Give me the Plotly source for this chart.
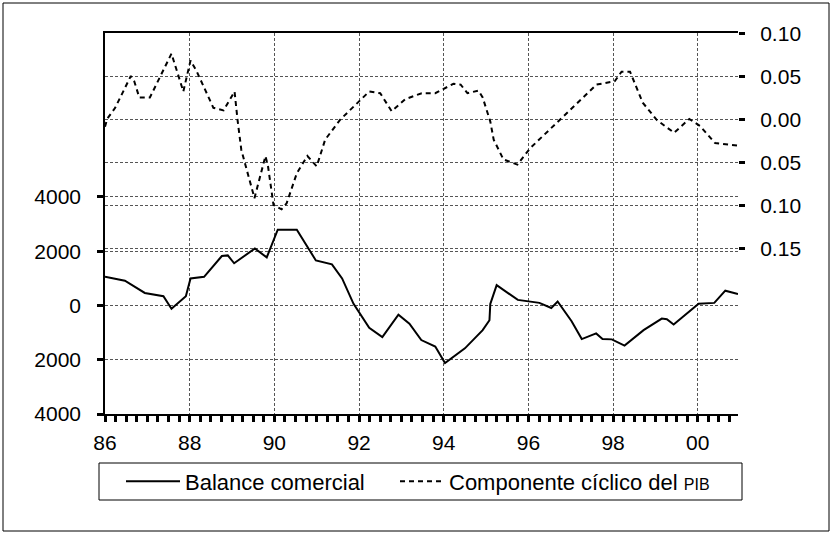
import plotly.graph_objects as go

# ---- data ----
years_balance = [1986.00, 1986.47, 1986.94, 1987.38, 1987.57, 1987.91, 1988.02, 1988.34, 1988.76, 1988.90,
                 1989.05, 1989.54, 1989.82, 1990.08, 1990.53, 1990.98, 1991.36, 1991.60, 1991.87, 1992.24,
                 1992.55, 1992.93, 1993.19, 1993.47, 1993.80, 1994.03, 1994.50, 1994.92, 1995.08, 1995.10,
                 1995.25, 1995.75, 1996.26, 1996.54, 1996.69, 1997.02, 1997.26, 1997.60, 1997.75, 1997.97,
                 1998.27, 1998.72, 1999.15, 1999.27, 1999.43, 2000.02, 2000.39, 2000.65, 2000.95]
balance = [1060, 910, 460, 340, -120, 340, 995, 1056, 1820, 1845,
           1555, 2100, 1770, 2790, 2790, 1660, 1515, 995, 60, -825,
           -1165, -340, -670, -1275, -1515, -2120, -1580, -910, -545, 60,
           750, 205, 95, -95, 145, -580, -1240, -1030, -1240, -1250,
           -1480, -910, -485, -510, -705, 60, 95, 545, 425]

years_ciclo = [1986.00, 1986.05, 1986.24, 1986.61, 1986.69, 1986.81, 1987.06, 1987.57, 1987.85, 1988.02,
               1988.16, 1988.56, 1988.80, 1989.06, 1989.13, 1989.22, 1989.53, 1989.79, 1989.85, 1989.98,
               1990.17, 1990.29, 1990.53, 1990.78, 1991.00, 1991.20, 1991.55, 1992.06, 1992.24, 1992.50,
               1992.77, 1993.09, 1993.48, 1993.80, 1994.03, 1994.23, 1994.40, 1994.56, 1994.82, 1994.92,
               1995.10, 1995.18, 1995.41, 1995.74, 1996.04, 1996.75, 1997.61, 1998.04, 1998.20, 1998.40,
               1998.51, 1998.70, 1999.03, 1999.44, 1999.80, 2000.05, 2000.41, 2000.95]
ciclo = [-0.008, 0.001, 0.014, 0.051, 0.045, 0.026, 0.026, 0.077, 0.033, 0.069,
         0.057, 0.014, 0.011, 0.033, 0.000, -0.035, -0.091, -0.042, -0.054, -0.099,
         -0.104, -0.097, -0.062, -0.042, -0.054, -0.023, 0.000, 0.024, 0.033, 0.031,
         0.010, 0.024, 0.031, 0.031, 0.037, 0.042, 0.041, 0.031, 0.034, 0.026,
         -0.002, -0.023, -0.046, -0.052, -0.033, 0.000, 0.041, 0.045, 0.056, 0.056,
         0.043, 0.020, 0.000, -0.015, 0.001, -0.007, -0.027, -0.030]

x_tickvals = [1986, 1988, 1990, 1992, 1994, 1996, 1998, 2000]
x_ticktext = ["86", "88", "90", "92", "94", "96", "98", "00"]
y1_tickvals = [-4000, -2000, 0, 2000, 4000]
y1_ticktext = ["4000", "2000", "0", "2000", "4000"]
y2_tickvals = [0.10, 0.05, 0.0, -0.05, -0.10, -0.15]
y2_ticktext = ["0.10", "0.05", "0.00", "0.05", "0.10", "0.15"]

name_balance = "Balance comercial"
name_ciclo = 'Componente cíclico del <span style="font-size:16px">PIB</span>'

FONT = "Liberation Sans, Arial, Helvetica, sans-serif"
GRID = "#555555"

fig = go.Figure()
fig.add_trace(go.Scatter(x=years_balance, y=balance, mode="lines", name=name_balance,
                         line=dict(color="black", width=2), yaxis="y", legend="legend"))
fig.add_trace(go.Scatter(x=years_ciclo, y=ciclo, mode="lines", name=name_ciclo,
                         line=dict(color="black", width=2, dash="5px,4px"), yaxis="y2", legend="legend2"))

W, H = 832, 533
L, R, T, B = 105, 94, 33, 119
pw, ph = W - L - R, H - T - B


def px_x(x):
    return (x - L) / pw


def px_y(y):
    return (H - B - y) / ph


TICKFONT = dict(size=21)
LEGFONT = dict(size=22)

fig.update_layout(
    width=W, height=H,
    margin=dict(l=L, r=R, t=T, b=B),
    paper_bgcolor="white", plot_bgcolor="white",
    font=dict(family=FONT, size=21, color="black"),
    xaxis=dict(range=[1986, 2000.95], tickmode="array", tickvals=x_tickvals, ticktext=x_ticktext,
               showline=True, linecolor="black", linewidth=1.5, mirror=True,
               ticks="outside", ticklen=6, tickwidth=3, tickcolor="black",
               showgrid=True, gridcolor=GRID, gridwidth=1, griddash="3px,2px", zeroline=False,
               minor=dict(tickmode="linear", tick0=1986, dtick=0.25, ticks="outside", ticklen=6,
                          tickwidth=3, tickcolor="black", showgrid=False),
               tickfont=TICKFONT, ticklabelstandoff=3),
    yaxis=dict(range=[-4000, 10040], tickmode="array", tickvals=y1_tickvals, ticktext=y1_ticktext,
               showline=True, linecolor="black", linewidth=1.5,
               ticks="outside", ticklen=6, tickwidth=3, tickcolor="black",
               showgrid=True, gridcolor=GRID, gridwidth=1, griddash="3px,2px", zeroline=False,
               tickfont=TICKFONT, ticklabelstandoff=12),
    yaxis2=dict(range=[-0.342, 0.101], overlaying="y", side="right", anchor="x",
                tickmode="array", tickvals=y2_tickvals, ticktext=y2_ticktext,
                showline=False, ticks="outside", ticklen=6, tickwidth=3, tickcolor="black",
                showgrid=True, gridcolor=GRID, gridwidth=1, griddash="3px,2px", zeroline=False,
                tickfont=TICKFONT, ticklabelstandoff=11),
    showlegend=True,
    legend=dict(orientation="h", x=px_x(121), xanchor="left", y=px_y(481.5), yanchor="middle",
                bgcolor="rgba(0,0,0,0)", borderwidth=0, font=LEGFONT, itemwidth=54),
    legend2=dict(orientation="h", x=px_x(395), xanchor="left", y=px_y(481.5), yanchor="middle",
                 bgcolor="rgba(0,0,0,0)", borderwidth=0, font=LEGFONT, itemwidth=44),
    shapes=[
        dict(type="rect", xref="paper", yref="paper", x0=px_x(99), x1=px_x(742), y0=px_y(500), y1=px_y(463),
             line=dict(color="black", width=1), fillcolor="rgba(0,0,0,0)"),
        dict(type="rect", xref="paper", yref="paper", x0=px_x(3), x1=px_x(829), y0=px_y(531), y1=px_y(3),
             line=dict(color="black", width=1), fillcolor="rgba(0,0,0,0)"),
    ],
)

fig.write_html("out.html", config={"displayModeBar": False},
               post_script="document.body.style.margin='0';document.body.style.overflow='hidden';")
